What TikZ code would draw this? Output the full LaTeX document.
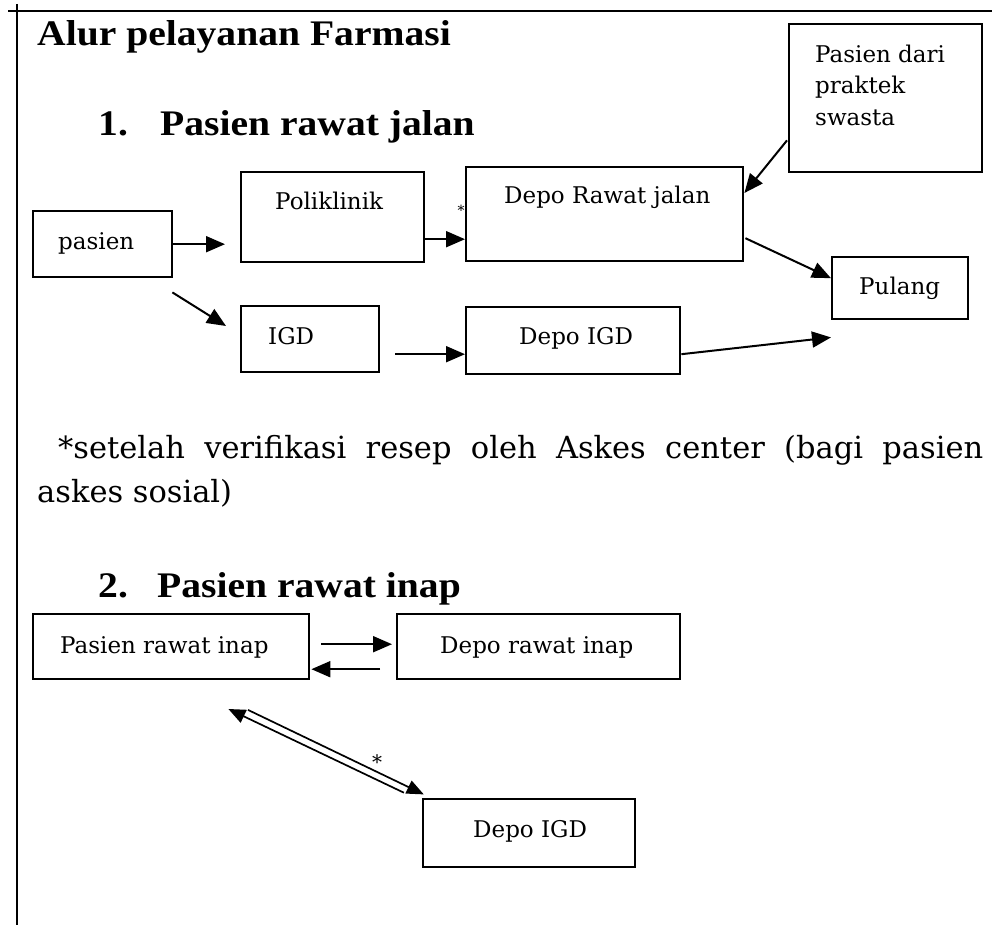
\documentclass[tikz,border=0pt]{standalone}
\usepackage{fontspec}
\setmainfont{DejaVu Serif}
\newfontfamily\headfont[FakeStretch=1.1]{Liberation Serif}
\usetikzlibrary{arrows.meta,calc}
\begin{document}
\begin{tikzpicture}[x=1pt,y=-1pt,
  box/.style={draw=black, line width=2.4pt, inner sep=0pt, anchor=north west},
  lbl/.style={font=\fontsize{23}{28}\selectfont, inner sep=0pt, anchor=base west},
  head/.style={font=\headfont\bfseries\fontsize{36}{40}\selectfont, inner sep=0pt, anchor=base west},
  para/.style={font=\fontsize{30.5}{40}\selectfont, inner sep=0pt, anchor=base west},
  arr/.style={line width=2pt, -{Triangle[length=19pt,width=16pt]}},
  thinarr/.style={line width=1.7pt, -{Triangle[length=17pt,width=14pt]}},
  star/.style={inner sep=0pt},
]
\useasboundingbox (0,0) rectangle (992,925);
% frame lines
\draw[line width=2pt] (8,11) -- (992,11);
\draw[line width=2.6pt] (17,4) -- (17,925);

% headings
\node[head] (title) at (37,46) {Alur pelayanan Farmasi};
\node[head] (h1) at (98,136) {\makebox[62pt][l]{1.}Pasien rawat jalan};
\node[head] (h2) at (98,597) {\makebox[59pt][l]{2.}Pasien rawat inap};

% boxes section 1
\node[star] (st1) at (461,210) {\fontsize{14}{14}\selectfont *};
\node[box, minimum width=193pt, minimum height=148pt] (swasta) at (788,23) {};
\node[box, minimum width=139pt, minimum height=66pt] (pasien) at (32,210) {};
\node[box, minimum width=183pt, minimum height=90pt] (poli) at (240,171) {};
\node[box, minimum width=277pt, minimum height=94pt] (drj) at (465,166) {};
\node[box, minimum width=136pt, minimum height=62pt] (pulang) at (831,256) {};
\node[box, minimum width=138pt, minimum height=66pt] (igd) at (240,305) {};
\node[box, minimum width=214pt, minimum height=67pt] (digd) at (465,306) {};

% labels section 1
\node[lbl] (tsw1) at (815,63) {Pasien dari};
\node[lbl] (tsw2) at (815,94) {praktek};
\node[lbl] (tsw3) at (815,126) {swasta};
\node[lbl] (tpas) at (58,250) {pasien};
\node[lbl] (tpoli) at (275,210) {Poliklinik};
\node[lbl] (tigd) at (268,344) {IGD};
\node[lbl] (tdrj) at (504,204) {Depo Rawat jalan};
\node[lbl] (tpul) at (859,294) {Pulang};
\node[lbl] (tdigd) at (519,344) {Depo IGD};

% arrows section 1
\draw[arr] (pasien.east) -- ([xshift=-15pt]pasien.east -| poli.west);
\draw[arr] ($(pasien.south east)+(-1,14)$) -- ($(igd.north west)+(-14,21)$);
\draw[arr] ($(igd.east)+(15,15)$) -- ($(digd.west)+(0,13.5)$);
\coordinate (p1) at ($(poli.east)+(0,22)$);
\draw[arr] (p1) -- (p1 -| drj.west);
\draw[arr] ($(swasta.south west)+(-1,-33)$) -- ($(drj.north east)+(0,27)$);
\draw[arr] ($(drj.east)+(1,24)$) -- ($(pulang.west)+(0,-10)$);
\draw[arr] ($(digd.east)+(0,13.5)$) -- ($(pulang.south west)+(0,17)$);

% paragraph
\node[para] (par1) at (37,458) {\makebox[946pt][s]{\hspace*{21pt}*setelah verifikasi resep oleh Askes center (bagi pasien}};
\node[para] (par2) at (37,502) {askes sosial)};

% section 2
\node[box, minimum width=276pt, minimum height=65pt] (pri) at (32,613) {};
\node[box, minimum width=283pt, minimum height=65pt] (dri) at (396,613) {};
\node[box, minimum width=212pt, minimum height=68pt] (digdb) at (422,798) {};
\node[lbl] (tpri) at (60,653) {Pasien rawat inap};
\node[lbl] (tdri) at (440,653) {Depo rawat inap};
\node[lbl] (tdigdb) at (473,837) {Depo IGD};

\draw[arr] ($(pri.east)+(11,-2.5)$) -- ($(dri.west)+(-4,-2.5)$);
\draw[arr] ($(dri.west)+(-16,22.5)$) -- ($(pri.east)+(1,22.5)$);

\coordinate (dA) at ($(pri.south)+(59,25)$);
\coordinate (dB) at (digdb.north west);
\draw[thinarr] ($(dA)+(17.8,4.5)$) -- ($(dB)+(1.8,-3.6)$);
\draw[thinarr] ($(dB)+(-18.1,-5.3)$) -- ($(dA)+(-1.8,3.6)$);
\node[star] (st2) at (377,762) {\fontsize{20}{20}\selectfont *};
\end{tikzpicture}
\end{document}
